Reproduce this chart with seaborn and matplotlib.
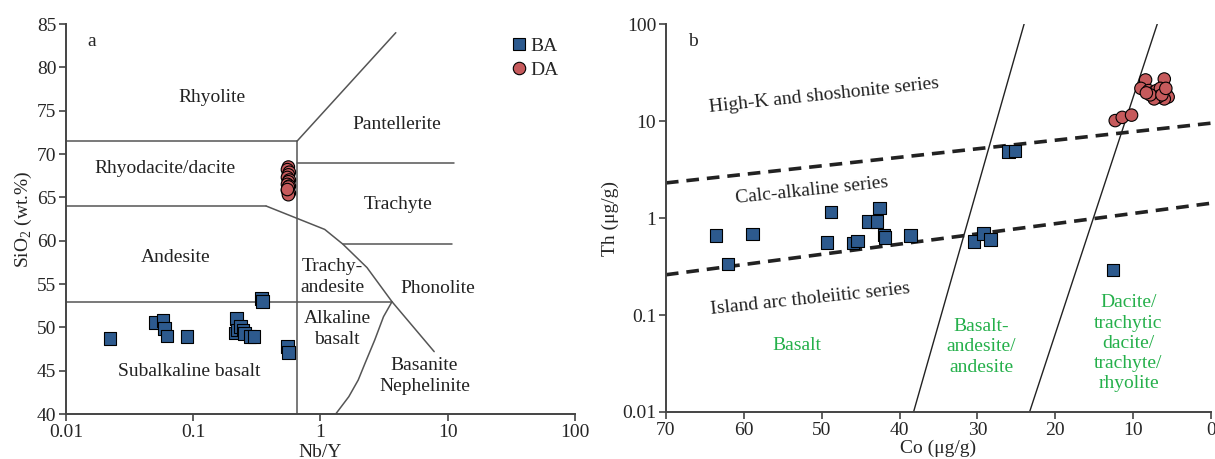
import numpy as np
import pandas as pd
import matplotlib
matplotlib.use("Agg")
import matplotlib.pyplot as plt
from matplotlib.ticker import FixedLocator, FixedFormatter, NullLocator
import seaborn as sns

# ---------------- data: panel a (Nb/Y vs SiO2) ----------------
ba_nby = [0.0222, 0.0504, 0.0579, 0.0596, 0.0621, 0.0891, 0.219, 0.213, 0.222,
          0.236, 0.245, 0.252, 0.279, 0.300, 0.344, 0.351, 0.55, 0.56]
ba_sio2 = [48.73, 50.58, 50.77, 49.88, 49.0, 48.92, 51.04, 49.38, 49.69,
           50.08, 49.69, 49.31, 48.92, 48.92, 53.35, 52.96, 47.77, 47.08]
da_nby = [0.56, 0.55, 0.57, 0.56, 0.55, 0.57, 0.56, 0.55, 0.57, 0.56, 0.55,
          0.57, 0.56, 0.56, 0.55]
da_sio2 = [68.5, 68.2, 67.9, 67.6, 67.3, 67.0, 66.8, 66.5, 66.3, 66.0, 65.8,
           65.5, 65.3, 66.2, 65.9]

# ---------------- data: panel b (Co vs Th) ----------------
ba_co = [48.8, 42.6, 44.0, 42.9, 26.0, 25.2, 63.6, 58.9, 49.3, 46.0, 45.4,
         42.0, 41.9, 38.6, 62.0, 30.4, 29.2, 28.3, 12.6]
ba_th = [1.15, 1.26, 0.92, 0.92, 4.83, 4.9, 0.657, 0.684, 0.56, 0.55, 0.58,
         0.67, 0.63, 0.66, 0.336, 0.57, 0.695, 0.60, 0.29]
da_co = [12.3, 11.4, 10.2, 8.4, 9.0, 6.0, 8.0, 7.5, 7.0, 6.5, 5.8, 5.5, 6.0,
         6.8, 7.3, 7.8, 6.3, 8.3, 5.8]
da_th = [10.1, 10.9, 11.5, 26.5, 21.7, 27.1, 20.6, 19.5, 20.6, 21.7, 19.5,
         17.7, 16.9, 17.7, 16.9, 18.6, 18.6, 19.5, 21.7]

# ---------------- boundaries (panel a) ----------------
bnd_a = [
    ([0.01, 0.656], [71.5, 71.5]),
    ([0.656, 0.656], [40.0, 71.5]),
    ([0.656, 3.91], [71.5, 84.0]),
    ([0.656, 11.2], [69.0, 69.0]),
    ([0.01, 0.374], [64.0, 64.0]),
    ([0.374, 1.08, 1.50, 2.32, 3.65, 7.83], [64.0, 61.3, 59.6, 56.9, 52.96, 47.2]),
    ([1.50, 10.9], [59.6, 59.6]),
    ([0.01, 3.65], [52.96, 52.96]),
    ([3.65, 3.13, 2.67, 2.24, 1.98, 1.67, 1.33], [52.96, 51.23, 48.54, 45.85, 43.92, 42.0, 40.08]),
]
labels_a = [
    ("Rhyolite", 0.14, 76.5), ("Pantellerite", 3.96, 73.4),
    ("Rhyodacite/dacite", 0.0596, 68.3), ("Trachyte", 4.1, 64.2),
    ("Andesite", 0.0723, 58.1), ("Trachy-\nandesite", 1.24, 55.8),
    ("Phonolite", 8.28, 54.5), ("Alkaline\nbasalt", 1.35, 49.8),
    ("Subalkaline basalt", 0.0935, 44.96), ("Basanite\nNephelinite", 6.58, 44.4),
]

# ---------------- boundaries (panel b) ----------------
solid_b = [([38.2, 24.0], [0.01, 100]), ([23.3, 6.9], [0.01, 100])]
dashed_b = [([70, 0], [2.3, 9.5]), ([70, 0], [0.26, 1.42])]
series_b = [("High-K and shoshonite series", 49.7, 18.5),
            ("Calc-alkaline series", 51.2, 1.91),
            ("Island arc tholeiitic series", 51.5, 0.146)]
rock_b = [("Basalt", 53.2, 0.049),
          ("Basalt-\nandesite/\nandesite", 29.5, 0.047),
          ("Dacite/\ntrachytic\ndacite/\ntrachyte/\nrhyolite", 10.6, 0.051)]

BLUE = "#2d5a8e"
RED = "#c65a5c"
GREEN = "#25b04b"
LINE = "#555555"

sns.set_theme(style="white")
plt.rcParams["font.family"] = ["Liberation Serif", "DejaVu Serif"]
plt.rcParams["mathtext.fontset"] = "custom"
plt.rcParams["mathtext.rm"] = "Liberation Serif"
FS = 14

fig = plt.figure(figsize=(12.15, 4.59), dpi=100)
ax1 = fig.add_axes([0.0543, 0.098, 0.4189, 0.8497])
ax2 = fig.add_axes([0.5481, 0.1024, 0.4486, 0.8453])

# ---- panel a ----
df_a = pd.DataFrame({
    "x": ba_nby + da_nby,
    "y": ba_sio2 + da_sio2,
    "group": ["BA"] * len(ba_nby) + ["DA"] * len(da_nby),
})
sns.scatterplot(data=df_a, x="x", y="y", hue="group", style="group",
                markers={"BA": "s", "DA": "o"}, palette={"BA": BLUE, "DA": RED},
                s=80, edgecolor="black", linewidth=0.8, ax=ax1, zorder=3)
for xs, ys in bnd_a:
    ax1.plot(xs, ys, color=LINE, lw=1.1, zorder=2)
for t, x, y in labels_a:
    ax1.text(x, y, t, fontsize=FS, ha="center", va="center", color="#222222",
             linespacing=1.25)
ax1.set_xscale("log")
ax1.set_xlim(0.01, 100)
ax1.set_ylim(40, 85)
ax1.xaxis.set_major_locator(FixedLocator([0.01, 0.1, 1, 10, 100]))
ax1.xaxis.set_major_formatter(FixedFormatter(["0.01", "0.1", "1", "10", "100"]))
ax1.xaxis.set_minor_locator(NullLocator())
ax1.set_yticks(np.arange(40, 86, 5))
ax1.set_xlabel("Nb/Y", fontsize=FS, labelpad=2)
ax1.set_ylabel("SiO$_2$ (wt.%)", fontsize=FS, labelpad=2)
ax1.text(0.043, 0.954, "a", transform=ax1.transAxes, fontsize=FS, ha="left", va="center")
leg = ax1.legend(loc="upper left", bbox_to_anchor=(0.855, 0.985), frameon=False,
                 fontsize=FS, handletextpad=0.1, handlelength=1.0, borderaxespad=0,
                 labelspacing=0.3, title=None)
for h in leg.legend_handles:
    try:
        h.set_markeredgecolor("black")
    except AttributeError:
        pass

# ---- panel b ----
df_b = pd.DataFrame({
    "x": ba_co + da_co,
    "y": ba_th + da_th,
    "group": ["BA"] * len(ba_co) + ["DA"] * len(da_co),
})
sns.scatterplot(data=df_b, x="x", y="y", hue="group", style="group",
                markers={"BA": "s", "DA": "o"}, palette={"BA": BLUE, "DA": RED},
                s=80, edgecolor="black", linewidth=0.8, ax=ax2, zorder=3, legend=False)
for xs, ys in solid_b:
    ax2.plot(xs, ys, color="#222222", lw=1.0, zorder=2)
for xs, ys in dashed_b:
    ax2.plot(xs, ys, color="#222222", lw=2.6, ls=(0, (3.5, 2.2)), zorder=2)
for t, x, y in series_b:
    ax2.text(x, y, t, fontsize=FS, ha="center", va="center", rotation=6,
             rotation_mode="anchor", color="#222222")
for t, x, y in rock_b:
    ax2.text(x, y, t, fontsize=FS, ha="center", va="center", color=GREEN,
             linespacing=1.25)
ax2.set_yscale("log")
ax2.set_xlim(70, 0)
ax2.set_ylim(0.01, 100)
ax2.set_xticks(np.arange(0, 71, 10))
ax2.yaxis.set_major_locator(FixedLocator([0.01, 0.1, 1, 10, 100]))
ax2.yaxis.set_major_formatter(FixedFormatter(["0.01", "0.1", "1", "10", "100"]))
ax2.yaxis.set_minor_locator(NullLocator())
ax2.set_xlabel("Co (μg/g)", fontsize=FS, labelpad=1)
ax2.set_ylabel("Th (μg/g)", fontsize=FS, labelpad=2)
ax2.text(0.040, 0.954, "b", transform=ax2.transAxes, fontsize=FS, ha="left", va="center")

for ax in (ax1, ax2):
    for side in ("top", "right"):
        ax.spines[side].set_visible(False)
    for side in ("left", "bottom"):
        ax.spines[side].set_color("#444444")
        ax.spines[side].set_linewidth(1.4)
    ax.tick_params(axis="both", which="major", direction="out", length=5, width=1.2,
                   color="#444444", labelsize=FS, pad=2, left=True, bottom=True)
    ax.set_facecolor("white")

fig.savefig("out.png", dpi=100, facecolor="white")
